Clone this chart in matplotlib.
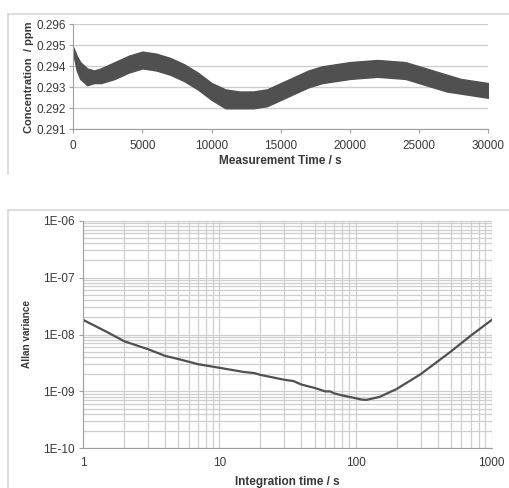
import matplotlib
matplotlib.use("Agg")
import matplotlib.pyplot as plt
from matplotlib.lines import Line2D
from matplotlib.ticker import FixedLocator, LogLocator, NullFormatter, FuncFormatter

plt.rcParams['font.family'] = ['Liberation Sans', 'DejaVu Sans']

# ---- top chart data: envelope of the noisy concentration band ----
time_s = [0, 250, 500, 1000, 1500, 2000, 3000, 4000, 5000, 6000, 7000, 8000, 9000,
          10000, 11000, 12000, 13000, 14000, 15000, 16000, 17000, 18000, 20000,
          22000, 24000, 25000, 26000, 27000, 28000, 29000, 30000]
conc_upper = [0.2949, 0.2945, 0.2942, 0.2939, 0.2938, 0.2939, 0.2942, 0.2945, 0.2947,
              0.2946, 0.2944, 0.2941, 0.2937, 0.2932, 0.2929, 0.2928, 0.2928, 0.2929,
              0.2932, 0.2935, 0.2938, 0.2940, 0.2942, 0.2943, 0.2942, 0.2940, 0.2938,
              0.2936, 0.2934, 0.2933, 0.2932]
conc_lower = [0.2946, 0.2938, 0.2934, 0.2931, 0.2932, 0.2932, 0.2934, 0.2937, 0.2939,
              0.2938, 0.2936, 0.2933, 0.2929, 0.2924, 0.2920, 0.2920, 0.2920, 0.2921,
              0.2924, 0.2927, 0.2930, 0.2932, 0.2934, 0.2935, 0.2934, 0.2932, 0.2930,
              0.2928, 0.2927, 0.2926, 0.2925]
conc_ticks = [0.291, 0.292, 0.293, 0.294, 0.295, 0.296]
time_ticks = [0, 5000, 10000, 15000, 20000, 25000, 30000]

# ---- bottom chart data: Allan variance ----
tau_s = [1, 1.5, 2, 3, 4, 5, 7, 10, 15, 18, 20, 25, 30, 35, 40, 50, 60, 65, 70, 80, 90,
         100, 110, 120, 130, 150, 200, 300, 500, 700, 1000]
allan_var = [1.8e-8, 1.1e-8, 7.6e-9, 5.5e-9, 4.2e-9, 3.7e-9, 3.0e-9, 2.6e-9, 2.2e-9,
             2.1e-9, 1.95e-9, 1.75e-9, 1.6e-9, 1.52e-9, 1.32e-9, 1.15e-9, 1.0e-9, 1.0e-9,
             9.2e-10, 8.5e-10, 8.0e-10, 7.6e-10, 7.2e-10, 7.1e-10, 7.4e-10, 8.0e-10,
             1.1e-9, 2.0e-9, 5.0e-9, 9.5e-9, 1.8e-8]
allan_ticks = [1e-10, 1e-9, 1e-8, 1e-7, 1e-6]
allan_tick_labels = ['1E-10', '1E-09', '1E-08', '1E-07', '1E-06']
tau_ticks = [1, 10, 100, 1000]

W, H = 510, 488
fig = plt.figure(figsize=(W / 100, H / 100), dpi=100)
fig.patch.set_facecolor('white')

grid_c = '#cfcfcf'
spine_c = '#a0a0a0'
line_c = '#505050'
text_c = '#383838'
border_c = '#d8d8d8'

def fx(px):
    return px / W

def fy(py):
    return 1 - py / H

# chart-area borders (Excel style)
for (x0, y0, y1) in [(8, 14, 174), (8, 210, 488)]:
    fig.add_artist(Line2D([fx(x0), fx(x0)], [fy(y0), fy(y1)], color=border_c, lw=1.2))
    fig.add_artist(Line2D([fx(x0), 1.0], [fy(y0), fy(y0)], color=border_c, lw=1.2))

# ---- top axes ----
ax1 = fig.add_axes([fx(73.3), fy(129.3), fx(488.3 - 73.3), (129.3 - 24.3) / H])
ax1.fill_between(time_s, conc_lower, conc_upper, color=line_c, lw=1.0, edgecolor=line_c)
ax1.set_xlim(0, 30000)
ax1.set_ylim(0.291, 0.296)
ax1.set_yticks(conc_ticks)
ax1.set_yticklabels([f'{v:.3f}' for v in conc_ticks])
ax1.set_xticks(time_ticks)
ax1.set_xticklabels([str(t) for t in time_ticks])
ax1.yaxis.grid(True, color=grid_c, lw=1.0)
ax1.set_axisbelow(True)
for s in ['top', 'right']:
    ax1.spines[s].set_visible(False)
for s in ['left', 'bottom']:
    ax1.spines[s].set_color(spine_c)
ax1.tick_params(axis='both', colors=spine_c, labelcolor=text_c, labelsize=8.5, length=3,
                width=0.8)
ax1.tick_params(axis='x', length=3, pad=5)
ax1.tick_params(axis='y', pad=2)
ax1.set_xlabel('Measurement Time / s', fontsize=8.5, fontweight='bold', color=text_c, labelpad=2)
ax1.set_ylabel('Concentration  / ppm', fontsize=8, fontweight='bold', color=text_c, labelpad=2)

# ---- bottom axes ----
ax2 = fig.add_axes([fx(83.3), fy(448.3), fx(491.7 - 83.3), (448.3 - 220.7) / H])
ax2.plot(tau_s, allan_var, color=line_c, lw=1.6)
ax2.set_xscale('log')
ax2.set_yscale('log')
ax2.set_xlim(1, 1000)
ax2.set_ylim(1e-10, 1e-6)
ax2.yaxis.set_major_locator(FixedLocator(allan_ticks))
ax2.set_yticklabels(allan_tick_labels)
ax2.yaxis.set_minor_locator(LogLocator(base=10, subs=range(2, 10)))
ax2.yaxis.set_minor_formatter(NullFormatter())
ax2.xaxis.set_major_locator(FixedLocator(tau_ticks))
ax2.xaxis.set_major_formatter(FuncFormatter(lambda v, p: f'{int(round(v))}'))
ax2.xaxis.set_minor_locator(LogLocator(base=10, subs=range(2, 10)))
ax2.xaxis.set_minor_formatter(NullFormatter())
ax2.grid(True, which='both', color=grid_c, lw=0.9)
ax2.set_axisbelow(True)
for s in ['top', 'right']:
    ax2.spines[s].set_visible(False)
for s in ['left', 'bottom']:
    ax2.spines[s].set_color(spine_c)
ax2.tick_params(axis='both', which='both', colors=spine_c, labelcolor=text_c, labelsize=8.5,
                length=0)
ax2.tick_params(axis='y', which='major', length=3, pad=3)
ax2.tick_params(axis='x', which='major', length=0, pad=6)
ax2.set_xlabel('Integration time / s', fontsize=8.5, fontweight='bold', color=text_c, labelpad=5)
ax2.set_ylabel('Allan variance', fontsize=7.2, fontweight='bold', color=text_c, labelpad=8)

fig.savefig('out.png', dpi=100)
